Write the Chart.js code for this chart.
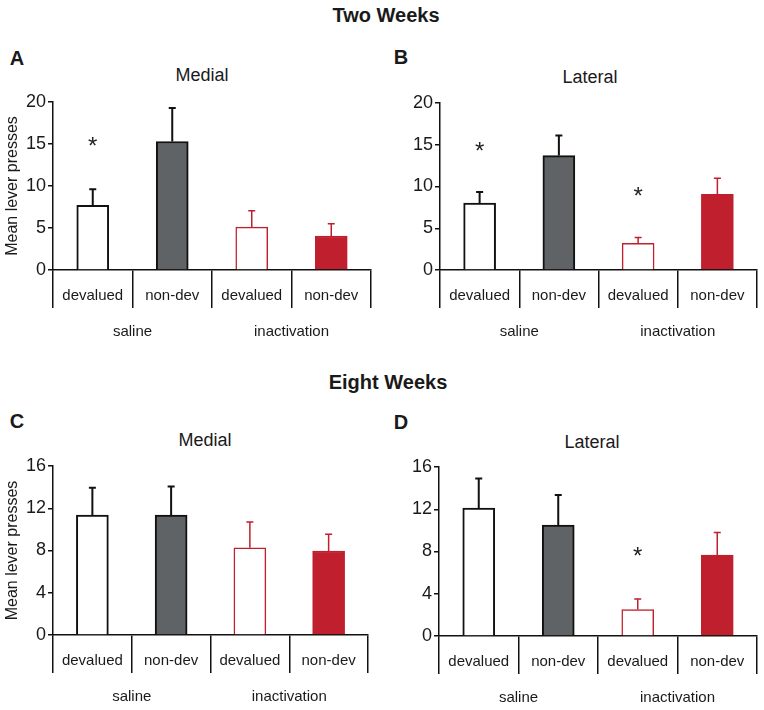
<!DOCTYPE html>
<html>
<head>
<meta charset="utf-8">
<script src="https://cdn.jsdelivr.net/npm/chart.js@4.4.1/dist/chart.umd.min.js"></script>
<style>
  body { margin: 0; background: #fff; font-family: "Liberation Sans", Arial, sans-serif; }
  #page { position: relative; width: 764px; height: 710px; overflow: hidden; }
  .txt { position: absolute; color: #1a1a1a; white-space: nowrap; transform: translate(-50%, -50%); }
  .head { font-weight: bold; font-size: 20px; }
  .letter { font-weight: bold; font-size: 20px; }
  .sub { font-size: 18px; }
  .panel { position: absolute; }
</style>
</head>
<body>
<div id="page">
  <div class="txt head" style="left:386px; top:15px;">Two Weeks</div>
  <div class="txt head" style="left:388px; top:382px;">Eight Weeks</div>
  <div class="txt letter" style="left:17px; top:58px;">A</div>
  <div class="txt letter" style="left:401px; top:57px;">B</div>
  <div class="txt letter" style="left:17px; top:421px;">C</div>
  <div class="txt letter" style="left:401px; top:422px;">D</div>
  <div class="txt sub" style="left:202px; top:75px;">Medial</div>
  <div class="txt sub" style="left:590px; top:77px;">Lateral</div>
  <div class="txt sub" style="left:205px; top:440px;">Medial</div>
  <div class="txt sub" style="left:592px; top:442px;">Lateral</div>

  <div class="panel" style="left:0; top:60px; width:382px; height:290px;"><canvas id="chartA"></canvas></div>
  <div class="panel" style="left:382px; top:60px; width:382px; height:290px;"><canvas id="chartB"></canvas></div>
  <div class="panel" style="left:0; top:425px; width:382px; height:285px;"><canvas id="chartC"></canvas></div>
  <div class="panel" style="left:382px; top:425px; width:382px; height:285px;"><canvas id="chartD"></canvas></div>
</div>
<script>
const categories = ["devalued", "non-dev", "devalued", "non-dev"];
const groups = ["saline", "inactivation"];

// two weeks
const medial2Means = [7.7, 15.3, 5.1, 4.05];
const medial2Sem = [1.9, 4.0, 1.95, 1.45];
const medial2Stars = [15.1, null, null, null];
const lateral2Means = [8.0, 13.7, 3.2, 9.05];
const lateral2Sem = [1.35, 2.4, 0.7, 1.95];
const lateral2Stars = [14.6, null, 9.2, null];

// eight weeks
const medial8Means = [11.35, 11.35, 8.25, 7.95];
const medial8Sem = [2.6, 2.7, 2.45, 1.6];
const medial8Stars = [null, null, null, null];
const lateral8Means = [12.1, 10.5, 2.5, 7.65];
const lateral8Sem = [2.8, 2.85, 1.0, 2.15];
const lateral8Stars = [null, null, 7.85, null];

const twoWeekTicks = [0, 5, 10, 15, 20];
const eightWeekTicks = [0, 4, 8, 12, 16];

const BLACK = "#111111";
const GRAY = "#5f6366";
const RED = "#c01f2e";
const fillColors = ["#ffffff", GRAY, "#ffffff", RED];
const edgeColors = [BLACK, BLACK, RED, RED];
const edgeWidths = [2, 2, 1.5, 1.5];

const extras = {
    id: "extras",
    afterDatasetsDraw(chart) {
        const ctx = chart.ctx;
        const y = chart.scales.y;
        const x = chart.scales.x;
        const ds = chart.data.datasets[0];
        const meta = chart.getDatasetMeta(0);
        const sem = chart.options.plugins.extras.sem;
        const stars = chart.options.plugins.extras.stars;
        ctx.save();
        meta.data.forEach((bar, i) => {
            const top = y.getPixelForValue(ds.data[i]);
            const end = y.getPixelForValue(ds.data[i] + sem[i]);
            ctx.strokeStyle = edgeColors[i];
            ctx.lineWidth = edgeWidths[i];
            ctx.beginPath();
            ctx.moveTo(bar.x, top);
            ctx.lineTo(bar.x, end);
            ctx.moveTo(bar.x - 3.5, end);
            ctx.lineTo(bar.x + 3.5, end);
            ctx.stroke();
            if (stars[i] !== null) {
                ctx.fillStyle = "#222";
                ctx.font = "24px 'Liberation Sans', Arial";
                ctx.textAlign = "center";
                ctx.textBaseline = "middle";
                ctx.fillText("*", bar.x, y.getPixelForValue(stars[i]) + 4);
            }
        });
        ctx.fillStyle = "#1a1a1a";
        ctx.font = "15px 'Liberation Sans', Arial";
        ctx.textAlign = "center";
        ctx.textBaseline = "middle";
        groups.forEach((g, k) => {
            ctx.fillText(g, x.getPixelForValue(2 * k + 0.5), chart.chartArea.bottom + 62);
        });
        ctx.restore();
    }
};

function makePanel(id, means, sem, stars, ticks, opts) {
    new Chart(document.getElementById(id), {
        type: "bar",
        data: {
            labels: categories,
            datasets: [{
                data: means,
                backgroundColor: fillColors,
                borderColor: edgeColors,
                borderWidth: edgeWidths,
                borderSkipped: "bottom",
                barThickness: 32
            }]
        },
        options: {
            responsive: true,
            maintainAspectRatio: false,
            animation: false,
            layout: { padding: { top: opts.top, right: opts.right, left: 0, bottom: 0 } },
            plugins: {
                legend: { display: false },
                tooltip: { enabled: false },
                extras: { sem: sem, stars: stars }
            },
            scales: {
                x: {
                    grid: { offset: true, drawOnChartArea: false, tickLength: 38, color: BLACK, lineWidth: 1.5 },
                    border: { color: BLACK, width: 1.5 },
                    ticks: { color: "#1a1a1a", font: { size: 15, family: "Liberation Sans" }, padding: -21, maxRotation: 0, autoSkip: false },
                    afterFit: s => { s.height = opts.xh; }
                },
                y: {
                    min: ticks[0],
                    max: ticks[ticks.length - 1],
                    afterBuildTicks: s => { s.ticks = ticks.map(v => ({ value: v })); },
                    grid: { drawOnChartArea: false, tickLength: 5, color: BLACK, lineWidth: 1.5 },
                    border: { color: BLACK, width: 1.5 },
                    ticks: { color: "#1a1a1a", font: { size: 18, family: "Liberation Sans" }, padding: 2 },
                    title: {
                        display: opts.yTitle,
                        text: "Mean lever presses",
                        color: "#1a1a1a",
                        font: { size: 16, family: "Liberation Sans" },
                        padding: { top: 3, bottom: 0 }
                    },
                    afterFit: s => { s.width = opts.yw; }
                }
            }
        },
        plugins: [extras]
    });
}

makePanel("chartA", medial2Means, medial2Sem, medial2Stars, twoWeekTicks, { top: 42, right: 11, xh: 80, yw: 53, yTitle: true });
makePanel("chartB", lateral2Means, lateral2Sem, lateral2Stars, twoWeekTicks, { top: 43, right: 7, xh: 80, yw: 58, yTitle: false });
makePanel("chartC", medial8Means, medial8Sem, medial8Stars, eightWeekTicks, { top: 41, right: 14, xh: 75, yw: 53, yTitle: true });
makePanel("chartD", lateral8Means, lateral8Sem, lateral8Stars, eightWeekTicks, { top: 42, right: 7, xh: 74, yw: 57, yTitle: false });
</script>
</body>
</html>
